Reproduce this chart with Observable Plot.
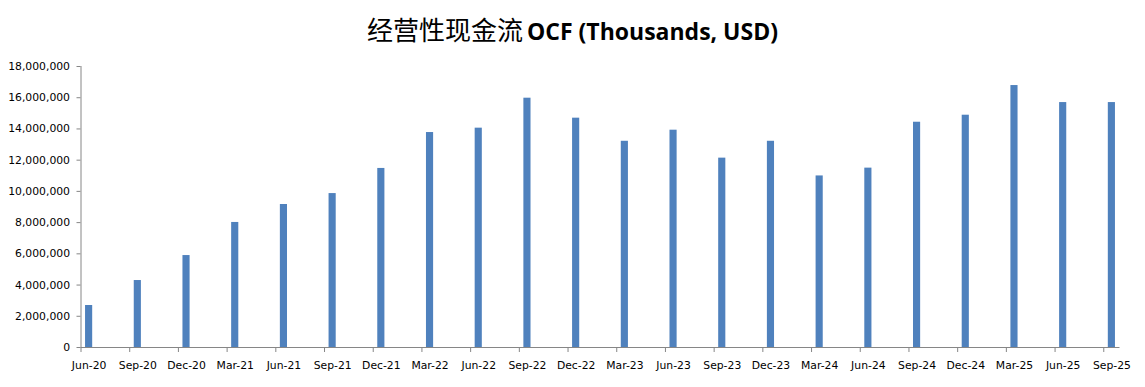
<!DOCTYPE html>
<html>
<head>
<meta charset="utf-8">
<script src="https://cdn.jsdelivr.net/npm/d3@7"></script>
<script src="https://cdn.jsdelivr.net/npm/@observablehq/plot@0.6"></script>
<style>
  html, body { margin: 0; padding: 0; background: #fff; }
  #title { height: 52px; width: 1145px; text-align: center; line-height: 58px; white-space: nowrap; color: #000; }
  #title .zh { font-family: "Noto Sans CJK SC", sans-serif; font-size: 26px; font-weight: 400; }
  #title .en { font-family: "Open Sans", sans-serif; font-size: 23px; font-weight: 700; }
</style>
</head>
<body>
<div id="title"><span class="zh">经营性现金流</span> <span class="en">OCF (Thousands, USD)</span></div>
<div id="chart"></div>
<script>
const quarters = ["Jun-20","Sep-20","Dec-20","Mar-21","Jun-21","Sep-21","Dec-21","Mar-22","Jun-22","Sep-22","Dec-22","Mar-23","Jun-23","Sep-23","Dec-23","Mar-24","Jun-24","Sep-24","Dec-24","Mar-25","Jun-25","Sep-25"];
const ocf = [2690000, 4290000, 5890000, 8010000, 9160000, 9860000, 11470000, 13770000, 14050000, 15970000, 14690000, 13210000, 13920000, 12130000, 13210000, 10990000, 11490000, 14430000, 14880000, 16780000, 15690000, 15690000];
const yTicks = [0, 2000000, 4000000, 6000000, 8000000, 10000000, 12000000, 14000000, 16000000, 18000000];
const monthsPerQuarter = 3;
const totalMonths = 64;

const data = quarters.map((q, i) => ({label: q, m: i * monthsPerQuarter, value: ocf[i]}));
const boundaryTicks = data.map(d => d.m);
const centerTicks = data.map(d => d.m + 0.5);
const labelAt = new Map(data.map(d => [d.m + 0.5, d.label]));

const axisColor = "#868686";
const chart = Plot.plot({
  width: 1145,
  height: 335,
  marginLeft: 80.5,
  marginRight: 25.5,
  marginTop: 14,
  marginBottom: 40,
  style: {fontFamily: "'DejaVu Sans', sans-serif", fontSize: "10.8px", color: "#000", background: "#fff"},
  x: {type: "linear", domain: [0, totalMonths], axis: null},
  y: {domain: [0, 18000000], axis: null},
  marks: [
    Plot.rectY(data, {x1: d => d.m + 0.28, x2: d => d.m + 0.72, y: "value", fill: "#4F81BD"}),
    Plot.ruleX([0], {stroke: axisColor}),
    Plot.ruleY([0], {stroke: axisColor}),
    Plot.axisY({ticks: yTicks, tickFormat: d3.format(","), tickSize: 4, tickPadding: 7, stroke: axisColor, fill: "#000", label: null}),
    Plot.axisX({ticks: boundaryTicks, tickFormat: () => "", tickSize: 5, stroke: axisColor, label: null}),
    Plot.axisX({ticks: centerTicks, tickFormat: v => labelAt.get(v), tickSize: 0, tickPadding: 14, fill: "#000", label: null})
  ]
});
document.getElementById("chart").appendChild(chart);
</script>
</body>
</html>
